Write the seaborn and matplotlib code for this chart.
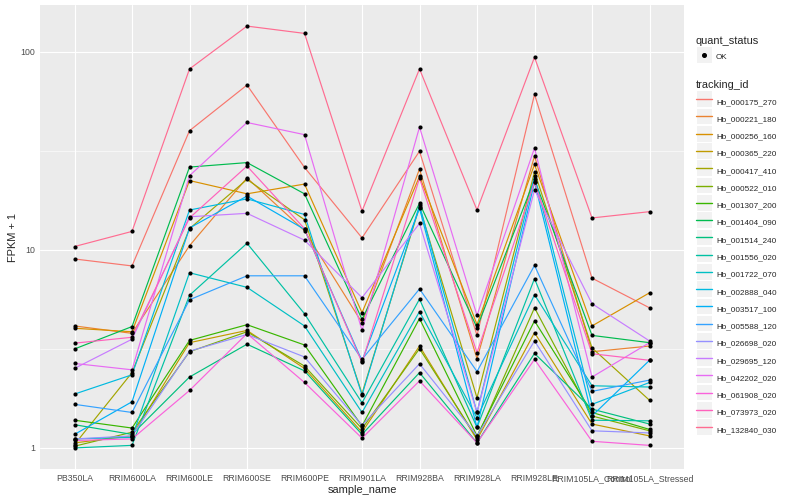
import numpy as np
import pandas as pd
import matplotlib
matplotlib.use('Agg')
import matplotlib.pyplot as plt
import seaborn as sns
from matplotlib.lines import Line2D
from matplotlib.patches import Rectangle
from matplotlib.legend_handler import HandlerLine2D
from matplotlib.ticker import FixedLocator, NullFormatter

# --- data: FPKM + 1 per sample, one list per tracking id ---
samples = ['PB350LA', 'RRIM600LA', 'RRIM600LE', 'RRIM600SE', 'RRIM600PE', 'RRIM901LA',
           'RRIM928BA', 'RRIM928LA', 'RRIM928LE', 'RRIM105LA_Control', 'RRIM105LA_Stressed']

tracking_ids = ['Hb_000175_270', 'Hb_000221_180', 'Hb_000256_160', 'Hb_000365_220',
                'Hb_000417_410', 'Hb_000522_010', 'Hb_001307_200', 'Hb_001404_090',
                'Hb_001514_240', 'Hb_001556_020', 'Hb_001722_070', 'Hb_002888_040',
                'Hb_003517_100', 'Hb_005588_120', 'Hb_026698_020', 'Hb_029695_120',
                'Hb_042202_020', 'Hb_061908_020', 'Hb_073973_020', 'Hb_132840_030']

hb_000175_270 = [9.0, 8.3, 40, 68, 26.1, 11.5, 31.5, 3.7, 61, 7.2, 5.1]
hb_000221_180 = [4.13, 3.79, 10.5, 23.1, 12.5, 4.29, 25.6, 2.82, 29.8, 3.06, 3.27]
hb_000256_160 = [4.02, 3.86, 22.4, 19.2, 21.5, 4.82, 23.5, 4.2, 27.0, 4.13, 6.07]
hb_000365_220 = [1.06, 1.15, 3.4, 3.92, 2.52, 1.2, 3.27, 1.1, 3.82, 1.32, 1.15]
hb_000417_410 = [1.04, 2.4, 12.8, 22.7, 14.2, 1.88, 16.5, 1.79, 24.8, 3.2, 1.74]
hb_000522_010 = [1.02, 1.2, 3.06, 3.86, 2.59, 1.25, 3.17, 1.12, 5.1, 1.45, 1.22]
hb_001307_200 = [1.38, 1.26, 3.49, 4.19, 3.31, 1.29, 4.5, 1.15, 4.38, 1.51, 1.24]
hb_001404_090 = [3.16, 4.1, 26.2, 27.6, 19.2, 4.46, 17.2, 4.05, 22.7, 3.7, 3.4]
hb_001514_240 = [1.31, 1.17, 2.28, 3.34, 2.45, 1.17, 2.4, 1.06, 3.0, 1.57, 1.32]
hb_001556_020 = [1.0, 1.03, 5.9, 10.8, 4.76, 1.69, 5.64, 1.27, 7.16, 1.38, 1.37]
hb_001722_070 = [1.11, 1.13, 7.67, 6.47, 4.13, 1.51, 4.88, 1.42, 5.94, 2.06, 2.03]
hb_002888_040 = [1.87, 2.34, 15.9, 18.1, 15.1, 1.85, 16.8, 1.51, 23.5, 1.66, 2.14]
hb_003517_100 = [1.17, 1.71, 12.9, 18.7, 12.7, 2.75, 16.2, 1.27, 22.0, 1.45, 2.77]
hb_005588_120 = [1.66, 1.51, 5.6, 7.4, 7.4, 2.8, 6.35, 2.43, 8.35, 1.93, 2.2]
hb_026698_020 = [1.11, 1.15, 3.08, 3.74, 2.88, 1.3, 2.66, 1.15, 3.47, 1.22, 1.19]
hb_029695_120 = [2.52, 3.54, 14.7, 15.3, 11.2, 5.74, 13.6, 1.51, 20.1, 5.35, 3.47]
hb_042202_020 = [2.67, 2.48, 23.7, 44, 38.2, 3.92, 41.7, 4.67, 32.7, 2.28, 3.4]
hb_061908_020 = [1.09, 1.11, 1.95, 3.78, 2.14, 1.12, 2.18, 1.06, 2.8, 1.08, 1.03]
hb_073973_020 = [3.38, 3.62, 14.5, 26.5, 12.8, 2.7, 23.0, 3.03, 22.0, 2.99, 2.77]
hb_132840_030 = [10.4, 12.4, 82, 135, 124, 15.7, 82, 15.9, 94, 14.5, 15.6]

series = [hb_000175_270, hb_000221_180, hb_000256_160, hb_000365_220, hb_000417_410,
          hb_000522_010, hb_001307_200, hb_001404_090, hb_001514_240, hb_001556_020,
          hb_001722_070, hb_002888_040, hb_003517_100, hb_005588_120, hb_026698_020,
          hb_029695_120, hb_042202_020, hb_061908_020, hb_073973_020, hb_132840_030]

# ggplot2 default hue palette for 20 levels
palette = ['#F8766D', '#EA8331', '#D89000', '#C09B00', '#A3A500', '#7CAE00', '#39B600',
           '#00BB4E', '#00BF7D', '#00C1A3', '#00BFC4', '#00BAE0', '#00B0F6', '#35A2FF',
           '#9590FF', '#C77CFF', '#E76BF3', '#FA62DB', '#FF62BC', '#FF6C91']

rows = []
for tid, vals in zip(tracking_ids, series):
    for s, v in zip(samples, vals):
        rows.append({'tracking_id': tid, 'sample_name': s, 'fpkm': v, 'quant_status': 'OK'})
df = pd.DataFrame(rows)
df['sample_name'] = pd.Categorical(df['sample_name'], categories=samples, ordered=True)

# --- plot ---
sns.set_style('white')
plt.rcParams['font.family'] = ['Liberation Sans', 'DejaVu Sans']

fig = plt.figure(figsize=(8, 5), dpi=100)
ax = fig.add_axes([40 / 800, 31 / 500, 644 / 800, 464 / 500])
ax.set_facecolor('#EBEBEB')

sns.lineplot(data=df, x='sample_name', y='fpkm', hue='tracking_id', hue_order=tracking_ids,
             palette=palette, estimator=None, sort=False, linewidth=0.85, legend=False, ax=ax,
             zorder=2)
sns.scatterplot(data=df, x='sample_name', y='fpkm', color='black', s=9, linewidth=0,
                legend=False, ax=ax, zorder=3)

ax.set_yscale('log')
lo, hi = np.log10(df['fpkm'].min()), np.log10(df['fpkm'].max())
pad = 0.05 * (hi - lo)
ax.set_ylim(10 ** (lo - pad), 10 ** (hi + pad))
ax.set_xlim(-0.6, len(samples) - 0.4)

ax.yaxis.set_major_locator(FixedLocator([1, 10, 100]))
ax.set_yticklabels(['1', '10', '100'])
ax.yaxis.set_minor_locator(FixedLocator([10 ** 0.5, 10 ** 1.5]))
ax.yaxis.set_minor_formatter(NullFormatter())
ax.set_xticks(range(len(samples)))
ax.set_xticklabels(samples)

ax.grid(which='major', color='white', linewidth=0.8)
ax.grid(which='minor', axis='y', color='white', linewidth=0.4)
ax.set_axisbelow(True)
for sp in ax.spines.values():
    sp.set_visible(False)

ax.tick_params(which='major', length=2, width=0.5, color='#333333', labelcolor='#4D4D4D',
               labelsize=6.3, pad=1.6)
ax.tick_params(which='minor', length=0)
ax.set_xlabel('sample_name', fontsize=7.9, labelpad=1.5)
ax.set_ylabel('FPKM + 1', fontsize=7.9, labelpad=1.5)


# gray key background like ggplot legends
class KeyBg(HandlerLine2D):
    def create_artists(self, legend, orig_handle, xdescent, ydescent, width, height, fontsize, trans):
        yc = (height - ydescent) / 2
        side = 11.2
        bg = Rectangle((-xdescent + 0.4, yc - side / 2), width - 0.8, side,
                       facecolor='#F2F2F2', edgecolor='none', transform=trans)
        arts = super().create_artists(legend, orig_handle, xdescent, ydescent, width, height,
                                      fontsize, trans)
        return [bg] + arts


leg_kw = dict(loc='upper left', frameon=False, borderpad=0, borderaxespad=0, fontsize=6.3,
              title_fontsize=7.9, alignment='left', handlelength=1.85, handleheight=1.95,
              handletextpad=0.45, labelspacing=0.46)

ok_handle = Line2D([], [], color='black', marker='o', markersize=2.6, linestyle='')
leg1 = fig.legend([ok_handle], ['OK'], title='quant_status',
                  bbox_to_anchor=(696 / 800, 1 - 36 / 500),
                  handler_map={Line2D: KeyBg()}, **leg_kw)

line_handles = [Line2D([], [], color=c, linewidth=1.0) for c in palette]
leg2 = fig.legend(line_handles, tracking_ids, title='tracking_id',
                  bbox_to_anchor=(696 / 800, 1 - 80.5 / 500),
                  handler_map={Line2D: KeyBg()}, **leg_kw)
for leg in (leg1, leg2):
    for t in leg.get_texts():
        t.set_fontsize(5.9)

fig.savefig('out.png', dpi=100, facecolor='white')
